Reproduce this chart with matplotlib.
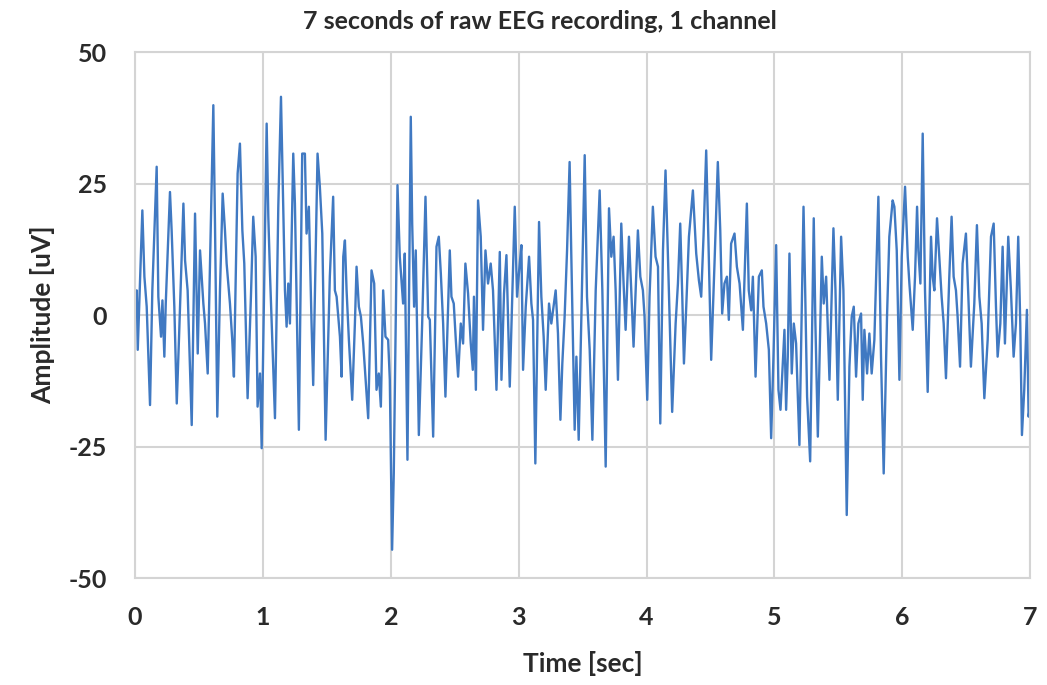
import matplotlib.pyplot as plt
import numpy as np

# Turning points of the trace.
time_s = [
    0.000, 0.013, 0.021, 0.057, 0.073, 0.091, 0.117, 0.135, 0.169, 0.182,
    0.203, 0.214, 0.229, 0.240, 0.273, 0.286, 0.307, 0.326, 0.344, 0.378,
    0.391, 0.411, 0.443, 0.469, 0.490, 0.508, 0.534, 0.547, 0.568, 0.612,
    0.625, 0.643, 0.664, 0.685, 0.703, 0.716, 0.742, 0.760, 0.773, 0.802,
    0.820, 0.839, 0.854, 0.880, 0.906, 0.924, 0.943, 0.958, 0.977, 0.990,
    1.029, 1.042, 1.055, 1.094, 1.120, 1.141, 1.151, 1.172, 1.185, 1.198,
    1.211, 1.237, 1.250, 1.281, 1.307, 1.328, 1.341, 1.359, 1.380, 1.393,
    1.427, 1.445, 1.464, 1.490, 1.523, 1.549, 1.5625, 1.576, 1.602, 1.615,
    1.628, 1.641, 1.654, 1.672, 1.698, 1.719, 1.732, 1.750, 1.766, 1.784,
    1.805, 1.823, 1.849, 1.870, 1.888, 1.906, 1.922, 1.940, 1.958, 1.979,
    1.992, 2.010, 2.023, 2.052, 2.070, 2.096, 2.109, 2.130, 2.156, 2.167,
    2.182, 2.195, 2.219, 2.245, 2.271, 2.292, 2.305, 2.331, 2.357, 2.375,
    2.391, 2.409, 2.427, 2.461, 2.474, 2.492, 2.508, 2.526, 2.547, 2.565,
    2.583, 2.604, 2.625, 2.641, 2.650, 2.665, 2.682, 2.703, 2.721, 2.740,
    2.760, 2.781, 2.799, 2.826, 2.852, 2.865, 2.885, 2.904, 2.930, 2.969,
    2.987, 3.008, 3.021, 3.034, 3.055, 3.081, 3.099, 3.112, 3.130, 3.159,
    3.177, 3.195, 3.211, 3.237, 3.255, 3.289, 3.307, 3.326, 3.341, 3.359,
    3.378, 3.398, 3.411, 3.4375, 3.451, 3.469, 3.490, 3.516, 3.534, 3.555,
    3.576, 3.602, 3.633, 3.654, 3.680, 3.706, 3.724, 3.742, 3.758, 3.776,
    3.802, 3.820, 3.836, 3.862, 3.880, 3.898, 3.932, 3.951, 3.971, 3.984,
    4.005, 4.023, 4.049, 4.070, 4.089, 4.107, 4.128, 4.148, 4.167, 4.200,
    4.227, 4.245, 4.263, 4.279, 4.292, 4.310, 4.331, 4.362, 4.388, 4.409,
    4.427, 4.445, 4.466, 4.484, 4.505, 4.531, 4.557, 4.576, 4.591, 4.609,
    4.628, 4.643, 4.661, 4.6875, 4.706, 4.727, 4.753, 4.784, 4.799, 4.818,
    4.831, 4.852, 4.878, 4.901, 4.914, 4.935, 4.956, 4.974, 4.992, 5.013,
    5.031, 5.047, 5.065, 5.078, 5.091, 5.104, 5.117, 5.135, 5.151, 5.169,
    5.195, 5.227, 5.240, 5.255, 5.279, 5.307, 5.320, 5.339, 5.370, 5.385,
    5.404, 5.430, 5.461, 5.477, 5.495, 5.521, 5.539, 5.565, 5.586, 5.604,
    5.620, 5.638, 5.656, 5.677, 5.690, 5.703, 5.724, 5.742, 5.760, 5.781,
    5.8125, 5.833, 5.854, 5.880, 5.898, 5.924, 5.9375, 5.956, 5.977, 5.995,
    6.021, 6.042, 6.055, 6.081, 6.099, 6.115, 6.125, 6.141, 6.159, 6.177,
    6.198, 6.224, 6.237, 6.250, 6.271, 6.289, 6.307, 6.323, 6.341, 6.367,
    6.385, 6.401, 6.419, 6.432, 6.451, 6.471, 6.497, 6.516, 6.536, 6.5625,
    6.583, 6.602, 6.620, 6.641, 6.667, 6.693, 6.714, 6.732, 6.745, 6.766,
    6.784, 6.802, 6.828, 6.849, 6.870, 6.888, 6.906, 6.922, 6.935, 6.953,
    6.974, 6.987, 7.000,
]

amplitude_uv = [
    2.0, 4.7, -6.6, 19.9, 7.3, 1.6, -17.1, 4.7, 28.2, 3.5,
    -4.1, 2.8, -7.9, 2.2, 23.4, 16.1, 1.6, -16.8, -4.1, 21.2,
    10.4, 4.7, -20.9, 19.3, -7.3, 12.3, 2.2, -1.6, -11.1, 39.9,
    17.4, -19.3, 4.7, 23.1, 16.1, 9.8, 2.2, -4.7, -11.7, 26.9,
    32.6, 16.1, 9.8, -15.8, 3.5, 18.7, 11.1, -17.4, -11.1, -25.3,
    36.4, 18.7, 7.9, -19.6, 20.6, 41.5, 29.4, 4.7, -2.2, 6.0,
    -1.6, 30.7, 21.2, -21.8, 30.7, 30.7, 15.5, 20.6, -1.6, -13.3,
    30.7, 24.4, 15.5, -23.7, 7.3, 22.5, 4.7, 3.5, -4.1, -11.7,
    11.1, 14.2, 4.7, -4.7, -16.1, -1.6, 9.2, 1.6, -0.3, -5.4,
    -13.0, -19.6, 8.5, 6.0, -14.2, -11.1, -17.4, 4.7, -4.1, -4.7,
    -12.3, -44.6, -30.1, 24.7, 11.1, 2.2, 11.7, -27.5, 37.7, 17.4,
    1.6, 12.3, -22.8, -1.6, 22.5, -0.3, -0.9, -23.1, 13.0, 14.9,
    7.9, -1.6, -15.5, 12.3, 3.5, 2.2, -4.7, -11.7, -1.6, -5.4,
    9.8, 4.1, -5.4, -10.4, 3.5, -14.2, 21.8, 14.9, -2.8, 12.3,
    6.0, 9.8, 4.7, -14.2, 12.0, -12.3, 4.1, 11.4, -13.6, 20.6,
    3.5, 9.8, 13.3, -10.4, 1.6, 11.1, 2.2, -0.9, -28.2, 17.7,
    3.5, -4.1, -14.2, 2.2, -1.6, 4.7, -3.5, -19.9, -9.2, -0.3,
    12.3, 29.1, 11.7, -21.8, -7.9, -23.7, -0.3, 30.4, 3.5, -6.6,
    -23.7, 4.7, 23.7, 4.7, -28.8, 20.3, 11.1, 14.9, 4.7, -12.3,
    17.4, 6.0, -2.8, 14.9, 4.7, -6.0, 16.1, 7.3, 4.7, -0.3,
    -16.1, 3.5, 20.6, 11.1, 9.2, -20.6, 12.3, 27.5, 11.1, -18.4,
    -1.6, 6.0, 17.4, 3.5, -9.2, 1.6, 14.9, 23.7, 11.7, 6.6,
    3.5, 14.9, 31.3, 13.6, -8.5, 9.8, 29.1, 16.1, 0.3, 6.0,
    7.3, -0.9, 13.6, 15.5, 9.2, 6.0, -2.8, 21.2, 4.7, 0.9,
    7.3, -11.7, 7.3, 8.5, 1.6, -1.6, -6.6, -23.4, -7.9, 13.3,
    -14.2, -18.0, -9.2, -2.8, -18.0, -7.9, 11.7, -11.1, -1.6, -5.4,
    -24.7, 20.6, 4.7, -15.5, -27.8, 18.4, -1.6, -23.1, 11.1, 2.2,
    7.3, -12.3, 16.5, 4.7, -16.1, 14.9, 4.7, -38.0, -9.8, -0.3,
    1.6, -11.7, -1.6, 0.3, -16.1, -2.8, -11.1, -3.5, -11.1, -4.7,
    22.5, -7.9, -30.1, -0.3, 14.9, 21.8, 20.6, 12.3, -12.3, 11.1,
    24.4, 11.1, 6.0, -2.8, 7.3, 20.6, 12.3, 6.0, 34.5, 4.7,
    -14.6, 14.9, 7.3, 4.7, 18.4, 11.1, 3.5, -1.6, -12.0, 7.3,
    18.7, 7.3, 4.7, -0.3, -9.8, 9.8, 15.5, 3.5, -9.8, 2.2,
    17.1, 3.5, -1.6, -15.8, -4.7, 14.9, 17.4, 1.6, -7.9, -1.6,
    13.0, -5.4, 14.9, 4.7, -7.9, -1.6, 14.9, -1.6, -22.8, -14.2,
    1.0, -19.3, -17.0,
]

x_ticks = [0, 1, 2, 3, 4, 5, 6, 7]
y_ticks = [-50, -25, 0, 25, 50]

LINE_COLOR = '#4079c2'
GRID_COLOR = '#d4d4d4'
TEXT_COLOR = '#2a2a2a'

plt.rcParams['font.family'] = ['Lato', 'DejaVu Sans']
plt.rcParams['axes.unicode_minus'] = False


def main():
    fig = plt.figure(figsize=(10.47, 6.85), dpi=100)
    ax = fig.add_axes([0.129, 0.156, 0.855, 0.768])

    ax.plot(np.array(time_s), np.array(amplitude_uv),
            color=LINE_COLOR, linewidth=1.7, solid_joinstyle='round')

    ax.set_xlim(0, 7)
    ax.set_ylim(-50, 50)
    ax.set_xticks(x_ticks)
    ax.set_yticks(y_ticks)
    ax.tick_params(length=0, labelsize=18, colors=TEXT_COLOR)
    ax.tick_params(axis='x', pad=20)
    ax.tick_params(axis='y', pad=20)
    for label in ax.get_xticklabels() + ax.get_yticklabels():
        label.set_fontweight('bold')

    ax.grid(True, color=GRID_COLOR, linewidth=1.5)
    ax.set_axisbelow(True)
    for spine in ax.spines.values():
        spine.set_color(GRID_COLOR)
        spine.set_linewidth(1.5)

    ax.set_xlabel('Time [sec]', fontsize=19, fontweight='bold',
                  color=TEXT_COLOR, labelpad=16)
    ax.set_ylabel('Amplitude [uV]', fontsize=19, fontweight='bold',
                  color=TEXT_COLOR, labelpad=10)
    fig.text(0.516, 0.968, '7 seconds of raw EEG recording, 1 channel',
             ha='center', va='center', fontsize=18, fontweight='bold',
             color=TEXT_COLOR)

    fig.savefig('out.png', dpi=100)
    plt.close(fig)


if __name__ == '__main__':
    main()
